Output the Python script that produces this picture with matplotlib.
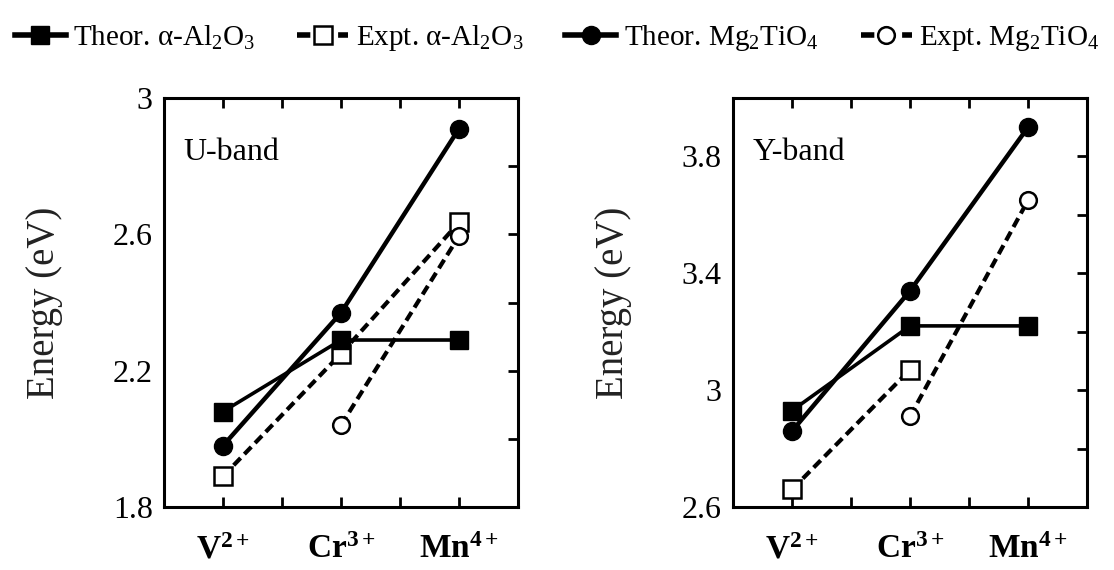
import matplotlib
matplotlib.use("Agg")
import matplotlib.pyplot as plt
import numpy as np

plt.rcParams['font.family'] = ['Liberation Serif', 'DejaVu Serif']
plt.rcParams['mathtext.fontset'] = 'custom'
plt.rcParams['mathtext.rm'] = 'Liberation Serif'
plt.rcParams['mathtext.it'] = 'Liberation Serif:italic'
plt.rcParams['mathtext.bf'] = 'Liberation Serif:bold'

ions = [r'$\mathbf{V^{2+}}$', r'$\mathbf{Cr^{3+}}$', r'$\mathbf{Mn^{4+}}$']
xpos = [1, 2, 3]

# U-band
u_theor_al = [2.08, 2.29, 2.29]
u_expt_al = [1.89, 2.25, 2.635]
u_theor_mg = [1.98, 2.37, 2.91]
u_expt_mg = [None, 2.04, 2.595]

# Y-band
y_theor_al = [2.93, 3.22, 3.22]
y_expt_al = [2.66, 3.07, None]
y_theor_mg = [2.86, 3.34, 3.90]
y_expt_mg = [None, 2.91, 3.65]

labels = [r'Theor. α-Al$_2$O$_3$', r'Expt. α-Al$_2$O$_3$',
          r'Theor. Mg$_2$TiO$_4$', r'Expt. Mg$_2$TiO$_4$']

fig = plt.figure(figsize=(11.14, 5.70), dpi=100)
ax1 = fig.add_axes([0.1472, 0.1105, 0.3178, 0.7175])
ax2 = fig.add_axes([0.658, 0.1105, 0.3178, 0.7175])

def draw(ax, ta, ea, tm, em):
    def pts(v):
        xs = [x for x, y in zip(xpos, v) if y is not None]
        ys = [y for y in v if y is not None]
        return xs, ys
    h = []
    x, y = pts(ea)
    h.append(ax.plot(x, y, ls=(0, (2.4, 1.3)), lw=3, color='black', marker='s', ms=13,
                     mfc='white', mec='black', mew=1.8, zorder=2)[0])
    x, y = pts(em)
    h.append(ax.plot(x, y, ls=(0, (2.4, 1.3)), lw=3, color='black', marker='o', ms=12,
                     mfc='white', mec='black', mew=1.8, zorder=2)[0])
    x, y = pts(ta)
    h.append(ax.plot(x, y, ls='-', lw=2.6, color='black', marker='s', ms=13,
                     mfc='black', mec='black', zorder=3)[0])
    x, y = pts(tm)
    h.append(ax.plot(x, y, ls='-', lw=3.2, color='black', marker='o', ms=13,
                     mfc='black', mec='black', zorder=3)[0])
    ax.set_xlim(0.5, 3.5)
    ax.set_xticks(xpos)
    ax.set_xticklabels(ions, fontsize=24)
    ax.set_xticks([1.5, 2.5], minor=True)
    for s in ax.spines.values():
        s.set_linewidth(2.2)
    ax.tick_params(axis='x', which='both', direction='in', top=True, bottom=True,
                   length=7, width=2, pad=20)
    ax.tick_params(axis='y', which='both', direction='in', left=False, right=True,
                   length=7, width=2, labelsize=23, pad=8)
    ax.set_ylabel('Energy (eV)', fontsize=28, color='#222222', labelpad=36)
    return h

h = draw(ax1, u_theor_al, u_expt_al, u_theor_mg, u_expt_mg)
ax1.set_ylim(1.8, 3.0)
ax1.set_yticks([1.8, 2.2, 2.6, 3.0])
ax1.set_yticklabels(['1.8', '2.2', '2.6', '3'])
ax1.set_yticks([2.0, 2.4, 2.8], minor=True)
ax1.text(0.054, 0.866, 'U-band', transform=ax1.transAxes, fontsize=23, va='center', ha='left')

draw(ax2, y_theor_al, y_expt_al, y_theor_mg, y_expt_mg)
ax2.set_ylim(2.6, 4.0)
ax2.set_yticks([2.6, 3.0, 3.4, 3.8])
ax2.set_yticklabels(['2.6', '3', '3.4', '3.8'])
ax2.set_yticks([2.8, 3.2, 3.6], minor=True)
ax2.text(0.054, 0.866, 'Y-band', transform=ax2.transAxes, fontsize=23, va='center', ha='left')

handles = [h[2], h[0], h[3], h[1]]
leg = fig.legend(handles, labels, loc='upper center', bbox_to_anchor=(0.5, 1.005), ncol=4,
                 frameon=False, fontsize=21, handlelength=1.75, handletextpad=0.25,
                 columnspacing=1.45, markerscale=1.0)
for line in leg.get_lines():
    line.set_linewidth(4)

fig.savefig('out.png', dpi=100)
